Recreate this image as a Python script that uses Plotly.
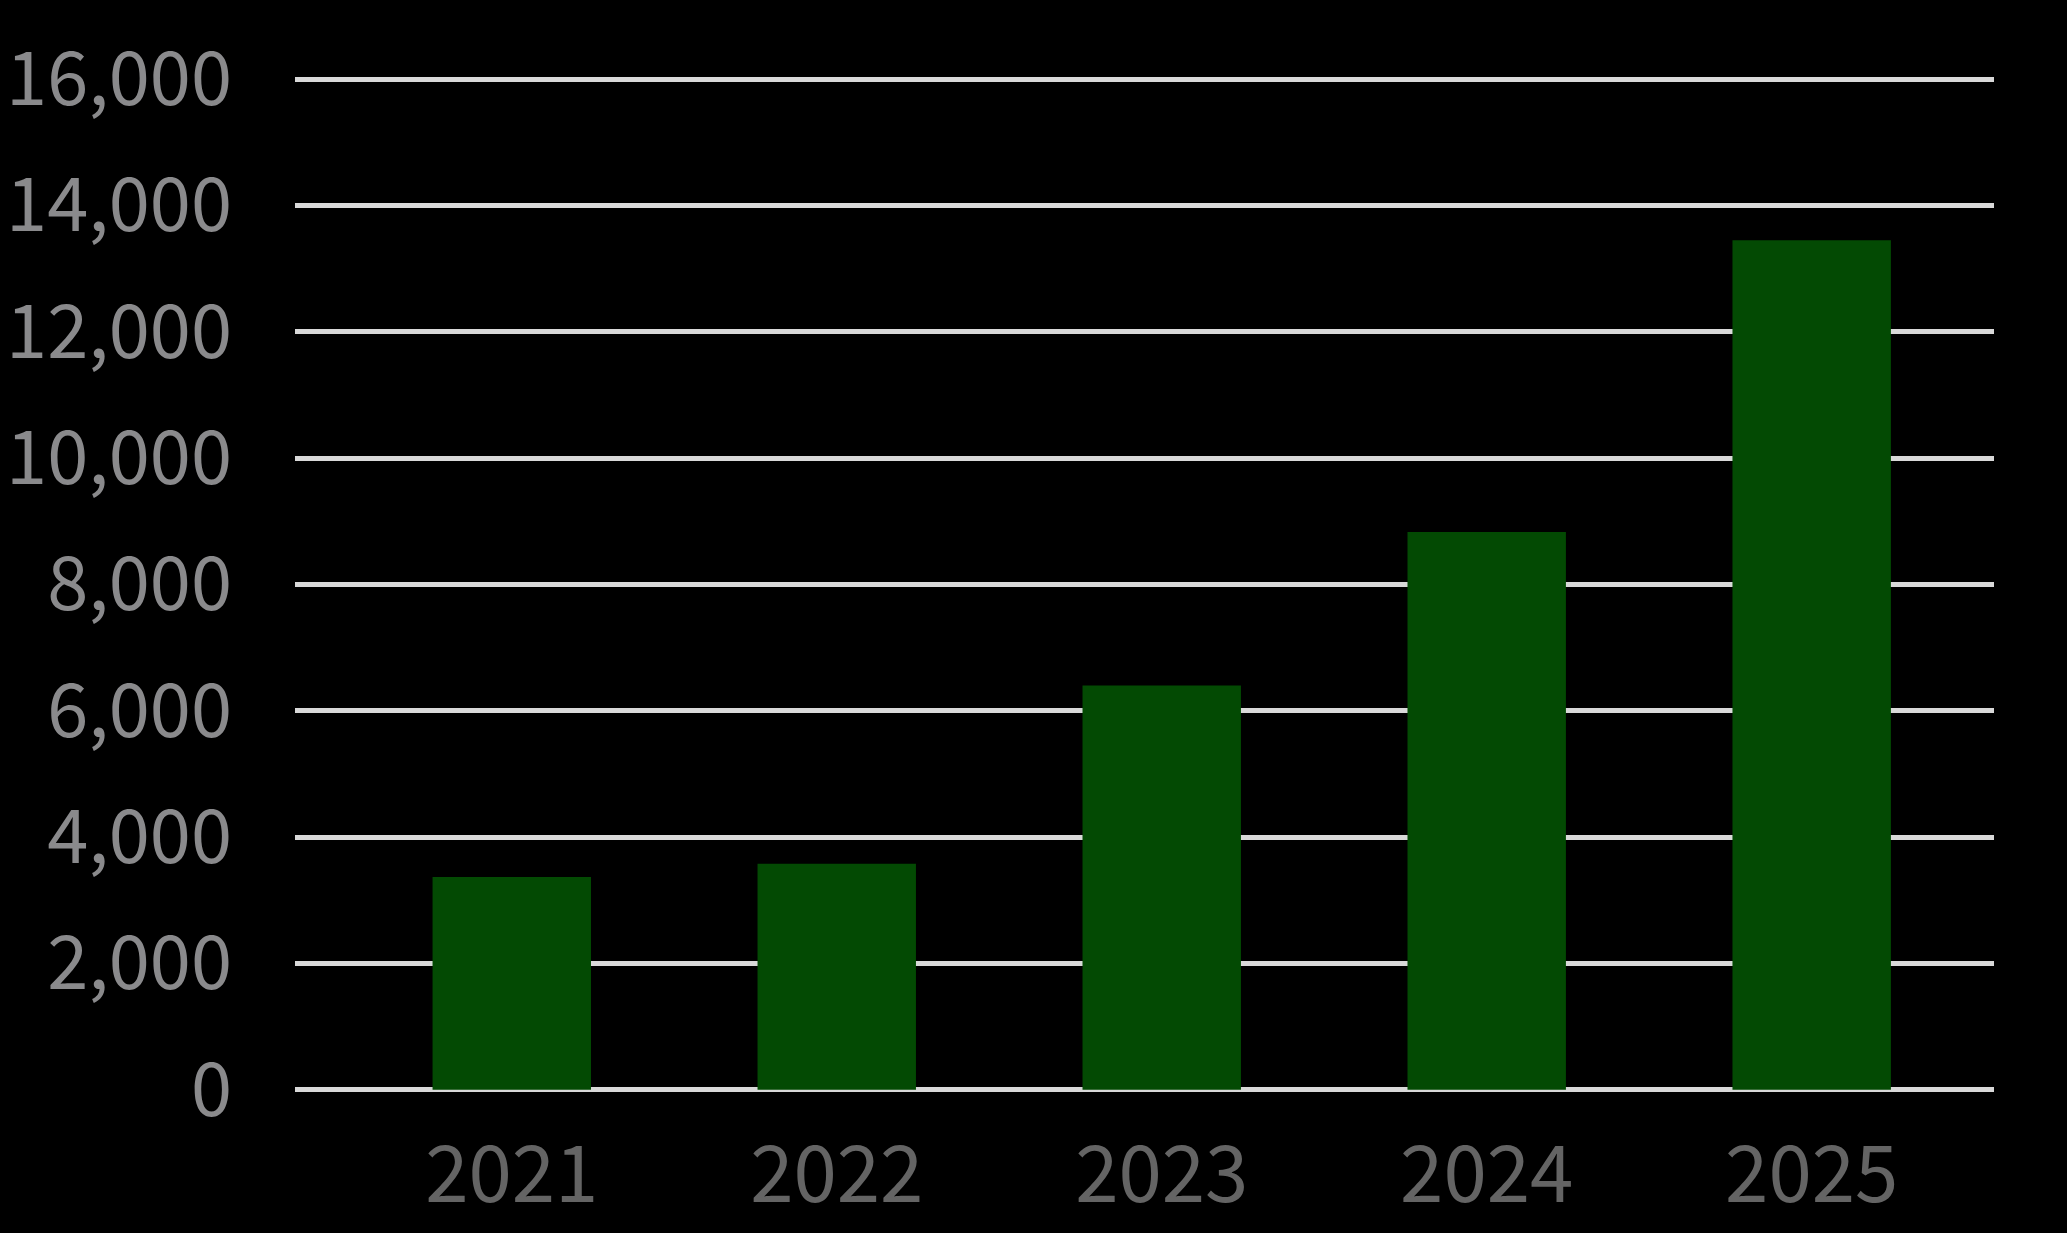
import plotly.graph_objects as go

years = ["2021", "2022", "2023", "2024", "2025"]
values = [3370, 3580, 6400, 8830, 13450]
y_ticks = [0, 2000, 4000, 6000, 8000, 10000, 12000, 14000, 16000]
y_tick_text = ["0", "2,000", "4,000", "6,000", "8,000", "10,000", "12,000", "14,000", "16,000"]

fig = go.Figure(
    go.Bar(
        x=years,
        y=values,
        marker=dict(color="#034a03", line=dict(width=0)),
    )
)

font_family = "Noto Sans CJK SC, Source Sans Pro, Noto Sans, sans-serif"

fig.update_layout(
    width=2067,
    height=1233,
    paper_bgcolor="#000000",
    plot_bgcolor="#000000",
    margin=dict(l=295, r=73, t=76, b=140, pad=0),
    bargap=0.5125,
    showlegend=False,
    xaxis=dict(
        type="category",
        range=[-0.667, 4.561],
        automargin=False,
        showgrid=False,
        zeroline=False,
        showline=False,
        ticks="",
        tickfont=dict(family=font_family, size=78, color="#646464"),
        ticklabelstandoff=30,
    ),
    yaxis=dict(
        range=[-50, 16050],
        automargin=False,
        tickvals=y_ticks,
        ticktext=y_tick_text,
        showgrid=True,
        gridcolor="#d9d9d9",
        gridwidth=5,
        zeroline=False,
        showline=False,
        ticks="",
        tickfont=dict(family=font_family, size=74, color="#8a8a8c"),
        ticklabelstandoff=62,
    ),
)

fig.write_html(
    "out.html",
    config={"displayModeBar": False},
    post_script="document.body.style.margin='0';document.body.style.background='#000';",
)
